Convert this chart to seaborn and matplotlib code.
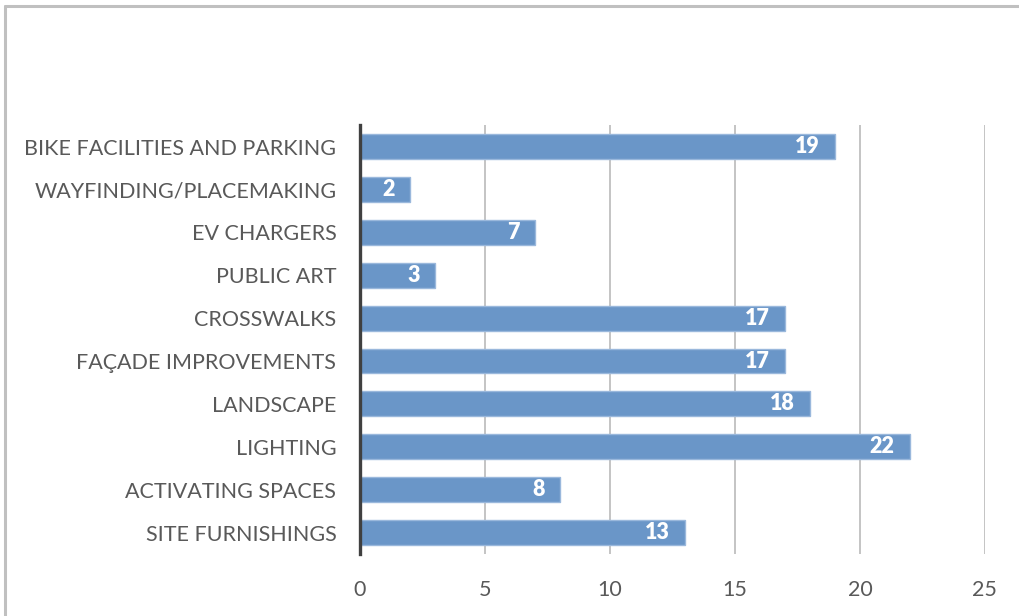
import pandas as pd
import seaborn as sns
import matplotlib.pyplot as plt
from matplotlib.lines import Line2D

categories = ["BIKE FACILITIES AND PARKING", "WAYFINDING/PLACEMAKING", "EV CHARGERS",
              "PUBLIC ART", "CROSSWALKS", "FAÇADE IMPROVEMENTS", "LANDSCAPE",
              "LIGHTING", "ACTIVATING SPACES", "SITE FURNISHINGS"]
counts = [19, 2, 7, 3, 17, 17, 18, 22, 8, 13]
xticks = [0, 5, 10, 15, 20, 25]

df = pd.DataFrame({"category": categories, "count": counts})

sns.set_style("white")
plt.rcParams['font.family'] = ['Lato', 'DejaVu Sans']

fig = plt.figure(figsize=(10.2, 6.16), dpi=100)
ax = fig.add_axes([0.3529, 0.1005, 0.6127, 0.6965])

sns.barplot(data=df, x="count", y="category", orient="h", width=0.58,
            color="#6a96c8", edgecolor="#9ab8dc", linewidth=1.0, saturation=1, ax=ax)

# value labels inside the bar ends
for i, v in enumerate(counts):
    ax.annotate(str(v), xy=(v, i), xytext=(-11, 0), textcoords="offset points",
                ha="right", va="center", color="white", fontsize=15.5, fontweight="heavy")

ax.set_xlim(0, 25)
ax.set_xticks(xticks)
ax.set_xlabel("")
ax.set_ylabel("")
ax.grid(axis="x", color="#c4c4c4", linewidth=1.4)
ax.set_axisbelow(True)
for s in ["top", "right", "bottom"]:
    ax.spines[s].set_visible(False)
ax.spines["left"].set_color("#404040")
ax.spines["left"].set_linewidth(2.4)
ax.spines["left"].set_zorder(5)
ax.tick_params(axis="both", length=0, labelsize=15.5, labelcolor="#595959")
ax.tick_params(axis="x", pad=19)
ax.tick_params(axis="y", pad=17)

# chart area border (top and left edges visible)
fig.add_artist(Line2D([0.0045, 1.0], [0.9905, 0.9905], color="#c0c0c0", linewidth=2.2,
                      transform=fig.transFigure))
fig.add_artist(Line2D([0.0045, 0.0045], [0.0, 0.9905], color="#c0c0c0", linewidth=2.2,
                      transform=fig.transFigure))

fig.savefig("out.png", dpi=100)
